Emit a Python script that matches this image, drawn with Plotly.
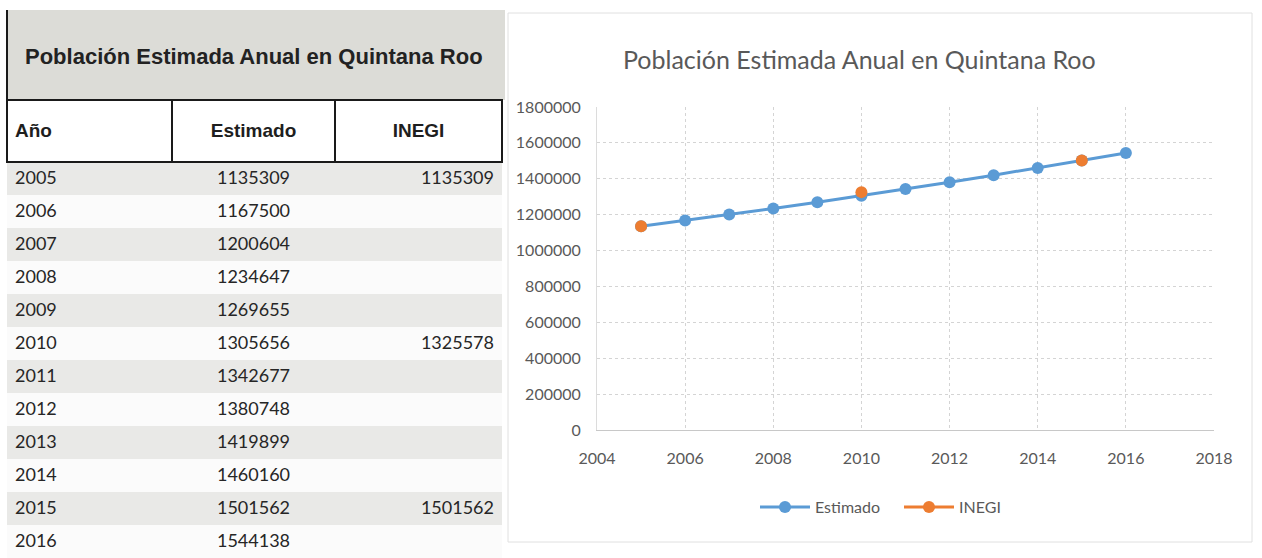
import plotly.graph_objects as go

# ---------------- data ----------------
years = [2005, 2006, 2007, 2008, 2009, 2010, 2011, 2012, 2013, 2014, 2015, 2016]
estimado = [1135309, 1167500, 1200604, 1234647, 1269655, 1305656,
            1342677, 1380748, 1419899, 1460160, 1501562, 1544138]
inegi = [1135309, None, None, None, None, 1325578,
         None, None, None, None, 1501562, None]
table_title = "Población Estimada Anual en Quintana Roo"
chart_title = "Población Estimada Anual en Quintana Roo"
col_headers = ["Año", "Estimado", "INEGI"]
x_ticks = [2004, 2006, 2008, 2010, 2012, 2014, 2016, 2018]
y_ticks = [0, 200000, 400000, 600000, 800000, 1000000, 1200000, 1400000, 1600000, 1800000]

W, H = 1262, 558
def px(x):
    return x / W
def py(y):
    return 1 - y / H

BLUE = "#5B9BD5"
ORANGE = "#ED7D31"
GRAY_TXT = "#595959"

fig = go.Figure()

# ---------------- table ----------------
row_fill = ["#e9e9e7" if i % 2 == 0 else "#fbfbfb" for i in range(len(years))]
fig.add_trace(go.Table(
    domain=dict(x=[px(7), px(502)], y=[0, py(100)]),
    columnwidth=[165, 163, 167],
    header=dict(
        values=["&nbsp;<br><span style='font-size:19px'><b>%s</b></span>" % h
                for h in col_headers],
        align=["left", "center", "center"],
        fill_color="white",
        line=dict(color="#1a1a1a", width=1.5),
        font=dict(family="Liberation Sans, Arial", size=13, color="#1e1e1e"),
        height=62,
    ),
    cells=dict(
        values=[[str(y) for y in years],
                [str(v) for v in estimado],
                ["" if v is None else str(v) for v in inegi]],
        align=["left", "center", "right"],
        fill_color=[row_fill, row_fill, row_fill],
        line=dict(width=0, color="rgba(0,0,0,0)"),
        font=dict(family="Lato, sans-serif", size=18, color="#262626"),
        height=33,
    ),
))

# ---------------- chart ----------------
fig.add_trace(go.Scatter(
    x=years, y=estimado, name="Estimado", mode="lines+markers",
    line=dict(color=BLUE, width=3),
    marker=dict(color=BLUE, size=12),
))
fig.add_trace(go.Scatter(
    x=years, y=inegi, name="INEGI", mode="lines+markers",
    connectgaps=False,
    line=dict(color=ORANGE, width=3),
    marker=dict(color=ORANGE, size=12),
))

axis_font = dict(family="Lato, sans-serif", size=16, color=GRAY_TXT)
fig.update_layout(
    width=W, height=H,
    margin=dict(l=0, r=0, t=0, b=0, pad=0, autoexpand=False),
    paper_bgcolor="white",
    plot_bgcolor="white",
    showlegend=True,
    legend=dict(
        orientation="h", x=px(755), y=py(507), xanchor="left", yanchor="middle",
        font=dict(family="Lato, sans-serif", size=16, color=GRAY_TXT),
        itemwidth=50, entrywidth=79,
    ),
    xaxis=dict(
        domain=[px(597), px(1214)], range=[2004, 2018],
        tickvals=x_ticks, ticktext=[str(t) for t in x_ticks],
        showgrid=True, gridcolor="#d4d4d4", griddash="dot", gridwidth=1,
        showline=True, linecolor="#c8c8c8", linewidth=1,
        zeroline=False, tickfont=axis_font, ticklabelstandoff=14,
        anchor="y", automargin=False,
    ),
    yaxis=dict(
        domain=[py(430), py(107)], range=[0, 1800000],
        tickvals=y_ticks, ticktext=[str(t) for t in y_ticks],
        showgrid=True, gridcolor="#d4d4d4", griddash="dot", gridwidth=1,
        showline=True, linecolor="#dcdcdc", linewidth=1,
        zeroline=False, tickfont=axis_font, ticklabelstandoff=12,
        anchor="x", automargin=False,
    ),
    shapes=[
        # table title block
        dict(type="rect", xref="paper", yref="paper",
             x0=px(7), x1=px(505), y0=py(100), y1=py(10),
             fillcolor="#dcdcd7", line=dict(width=0), layer="below"),
        dict(type="line", xref="paper", yref="paper",
             x0=px(7), x1=px(7), y0=py(100), y1=py(10),
             line=dict(color="#1a1a1a", width=2)),
        # chart frame
        dict(type="rect", xref="paper", yref="paper",
             x0=px(508), x1=px(1252), y0=py(542), y1=py(13),
             line=dict(color="#e0e0e0", width=1), layer="below"),
    ],
    annotations=[
        dict(text="<b>%s</b>" % table_title, xref="paper", yref="paper",
             x=px(254), y=py(56), xanchor="center", yanchor="middle",
             showarrow=False,
             font=dict(family="Liberation Sans, Arial", size=22, color="#222222")),
        dict(text=chart_title, xref="paper", yref="paper",
             x=px(859), y=py(59), xanchor="center", yanchor="middle",
             showarrow=False,
             font=dict(family="Lato, sans-serif", size=25, color=GRAY_TXT)),
    ],
)

fig.write_html("out.html", config={"displayModeBar": False},
               post_script="document.body.style.margin='0';")
